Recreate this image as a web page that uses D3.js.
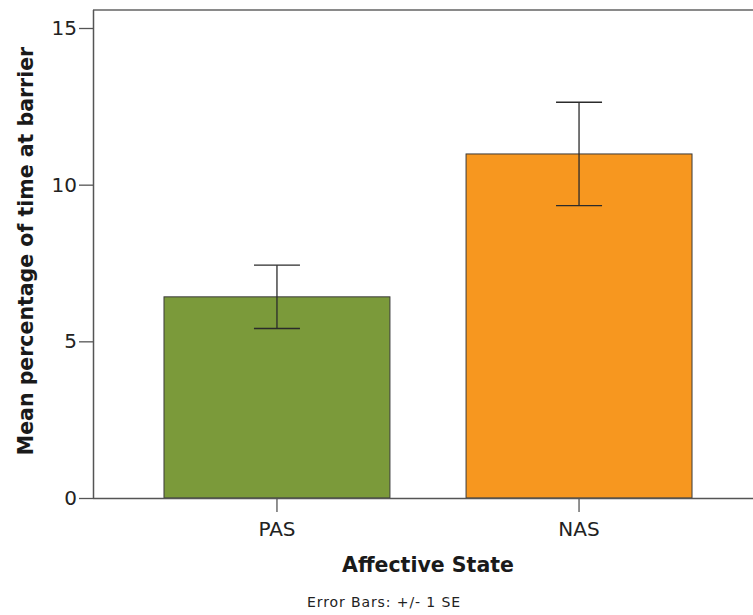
<!DOCTYPE html>
<html>
<head>
<meta charset="utf-8">
<script src="https://cdn.jsdelivr.net/npm/d3@7"></script>
<style>
  html, body { margin: 0; padding: 0; background: #fff; }
  svg { display: block; font-family: "DejaVu Sans", sans-serif; }
</style>
</head>
<body>
<svg id="chart" width="753" height="615"></svg>
<script>
// Mean percentage of time at the barrier by affective state, with ±1 SE
const categories = ["PAS", "NAS"];
const means = [6.42, 10.98];
const standardErrors = [1.01, 1.65];
const barColors = ["#7b9a3a", "#f7971f"];
const yTicks = [0, 5, 10, 15];

const svg = d3.select("#chart");
const plotLeft = 93, plotRight = 763, plotTop = 10, plotBottom = 498;

const x = d3.scaleBand()
  .domain(categories)
  .range([plotLeft, plotRight])
  .paddingInner(0.252)
  .paddingOuter(0.235);

const y = d3.scaleLinear()
  .domain([0, 15])
  .range([plotBottom, 28]);

const rows = categories.map((c, i) => ({ cat: c, mean: means[i], se: standardErrors[i], color: barColors[i] }));

// bars
svg.append("g").selectAll("rect")
  .data(rows)
  .join("rect")
  .attr("x", d => x(d.cat))
  .attr("y", d => y(d.mean))
  .attr("width", x.bandwidth())
  .attr("height", d => y(0) - y(d.mean))
  .attr("fill", d => d.color)
  .attr("stroke", "#3a3a3a")
  .attr("stroke-width", 1);

// error bars
const capHalf = 23;
const eb = svg.append("g").attr("stroke", "#2b2b2b").attr("stroke-width", 1.3);
rows.forEach(d => {
  const cx = x(d.cat) + x.bandwidth() / 2;
  eb.append("line").attr("x1", cx).attr("x2", cx)
    .attr("y1", y(d.mean + d.se)).attr("y2", y(d.mean - d.se));
  [d.mean + d.se, d.mean - d.se].forEach(v => {
    eb.append("line").attr("x1", cx - capHalf).attr("x2", cx + capHalf)
      .attr("y1", y(v)).attr("y2", y(v));
  });
});

// frame: top border
svg.append("line")
  .attr("x1", plotLeft).attr("x2", 753)
  .attr("y1", plotTop).attr("y2", plotTop)
  .attr("stroke", "#8a8a8a").attr("stroke-width", 2);

// y axis
const yAxis = svg.append("g")
  .attr("transform", `translate(${plotLeft},0)`)
  .call(d3.axisLeft(y).tickValues(yTicks).tickSize(14).tickPadding(2).tickFormat(d3.format("d")));
yAxis.select(".domain").attr("d", `M0.5,${plotTop}V${plotBottom}`).attr("stroke", "#555").attr("stroke-width", 1.5);
yAxis.selectAll(".tick line").attr("stroke", "#555").attr("stroke-width", 1.3);
yAxis.selectAll(".tick text").attr("font-size", 20).attr("fill", "#222")
  .attr("font-family", "'DejaVu Sans', sans-serif");

// x axis
const xAxis = svg.append("g")
  .attr("transform", `translate(0,${plotBottom})`)
  .call(d3.axisBottom(x).tickSize(14).tickPadding(10));
xAxis.select(".domain").attr("d", `M${plotLeft},0.5H753`).attr("stroke", "#555").attr("stroke-width", 1.5);
xAxis.selectAll(".tick line").attr("stroke", "#555").attr("stroke-width", 1.3);
xAxis.selectAll(".tick text").attr("font-size", 20).attr("fill", "#222")
  .attr("font-family", "'DejaVu Sans', sans-serif");

// axis titles
svg.append("text")
  .attr("x", 428).attr("y", 572)
  .attr("text-anchor", "middle")
  .attr("font-size", 20.5).attr("font-weight", "bold").attr("fill", "#1a1a1a")
  .text("Affective State");

svg.append("text")
  .attr("transform", "translate(33,251) rotate(-90)")
  .attr("text-anchor", "middle")
  .attr("font-size", 20.5).attr("font-weight", "bold").attr("fill", "#1a1a1a")
  .text("Mean percentage of time at barrier");

svg.append("text")
  .attr("x", 384).attr("y", 607)
  .attr("text-anchor", "middle")
  .attr("font-size", 14).attr("letter-spacing", 0.9).attr("fill", "#222")
  .text("Error Bars: +/- 1 SE");
</script>
</body>
</html>
